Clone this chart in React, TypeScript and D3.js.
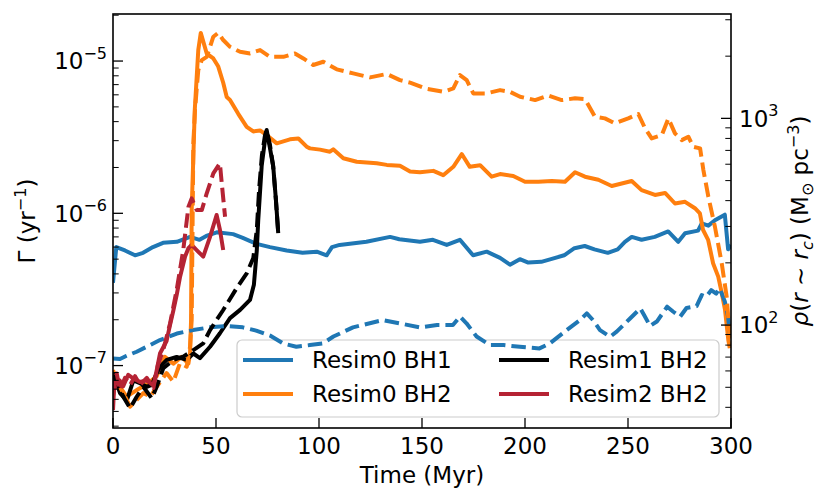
import * as d3 from "d3";

type Pt = [number, number];

// time (Myr) vs Gamma (yr^-1), solid lines, left axis
const resim0Bh1Gamma: Pt[] = [
  [0, 3.5e-7], [1.6, 6.0e-7], [5.8, 5.7e-7], [10.7, 5.3e-7], [14.6, 5.5e-7], [19.4, 6.0e-7],
  [24.3, 6.4e-7], [31, 6.5e-7], [37.4, 7.0e-7], [42, 6.7e-7], [45.3, 7.1e-7], [50.4, 7.5e-7],
  [58.3, 7.3e-7], [63, 6.9e-7], [69.7, 6.3e-7], [76.2, 6.0e-7], [84.3, 5.7e-7], [92, 5.5e-7],
  [98.9, 5.6e-7], [103.7, 5.3e-7], [106.3, 6.0e-7], [110, 6.2e-7], [123, 6.5e-7], [134.5, 7.0e-7],
  [139, 6.75e-7], [149, 6.5e-7], [155.3, 6.7e-7], [162, 6.2e-7], [168.4, 6.7e-7], [174.8, 5.3e-7],
  [181.4, 5.6e-7], [187.9, 5.1e-7], [192.7, 4.6e-7], [197.5, 5.0e-7], [201.6, 4.75e-7], [207.9, 4.8e-7],
  [212.6, 5.0e-7], [219, 5.3e-7], [224, 5.9e-7], [229, 6.1e-7], [233.7, 5.8e-7], [240.2, 5.5e-7],
  [245, 5.8e-7], [248.5, 6.5e-7], [251.8, 7.0e-7], [256.6, 6.7e-7], [263, 7.0e-7], [269.5, 7.6e-7],
  [274.4, 6.5e-7], [277.7, 7.4e-7], [284, 7.7e-7], [285.8, 8.6e-7], [289, 8.3e-7], [292.2, 9.0e-7],
  [297, 9.8e-7], [298.6, 5.8e-7], [300, 6.2e-7],
];

const resim0Bh2Gamma: Pt[] = [
  [0, 9.3e-8], [3.2, 7.3e-8], [6.6, 6.25e-8], [11.5, 6.9e-8], [16.3, 7.5e-8], [21.2, 8.5e-8],
  [25.2, 1.14e-7], [29.3, 1.03e-7], [33.3, 1.14e-7], [36.6, 1.03e-7], [37.4, 1.2e-7], [37.9, 2.0e-7],
  [38.2, 1.05e-6], [39.7, 4.8e-6], [41.4, 1.18e-5], [42.6, 1.53e-5], [45.5, 1.12e-5], [48.7, 1.04e-5],
  [51.1, 9.2e-6], [53.5, 7.2e-6], [55.2, 5.8e-6], [56.8, 5.55e-6], [60.8, 4.5e-6], [64.9, 3.7e-6],
  [68.1, 3.45e-6], [71.4, 3.5e-6], [74.6, 3.26e-6], [79.5, 2.88e-6], [85.9, 3.06e-6], [90, 3.1e-6],
  [94, 2.74e-6], [95.6, 2.67e-6], [100.5, 2.62e-6], [105.3, 2.54e-6], [106.9, 2.63e-6], [111.8, 2.3e-6],
  [118.3, 2.18e-6], [128, 2.13e-6], [132.9, 2.08e-6], [139.3, 2.05e-6], [144.2, 1.88e-6], [149, 1.86e-6],
  [155.5, 1.9e-6], [160.3, 1.78e-6], [165.2, 2.02e-6], [169.3, 2.45e-6], [173.2, 2.02e-6], [178.2, 2.07e-6],
  [183.8, 1.74e-6], [187.9, 1.81e-6], [194.3, 1.76e-6], [200, 1.61e-6], [206.5, 1.61e-6], [213, 1.63e-6],
  [219.4, 1.61e-6], [224.3, 1.86e-6], [229.1, 1.74e-6], [235.6, 1.66e-6], [242.1, 1.51e-6], [251.8, 1.63e-6],
  [256.6, 1.42e-6], [263.1, 1.32e-6], [268, 1.36e-6], [272.8, 1.16e-6], [277.7, 1.19e-6], [282.5, 1.08e-6],
  [284.9, 1.0e-6], [286.4, 7.8e-7], [288.9, 6.7e-7], [291.3, 4.7e-7], [293.8, 3.84e-7], [295.5, 3.0e-7],
  [297.1, 2.32e-7], [298.7, 1.47e-7], [299.4, 1.3e-7],
];

const resim1Bh2Gamma: Pt[] = [
  [0.1, 8.9e-8], [3.4, 6.6e-8], [6.7, 5.9e-8], [9.9, 8.0e-8], [13.1, 7.65e-8], [16.4, 7.26e-8],
  [18.8, 7.46e-8], [21.2, 8.9e-8], [22.8, 9.8e-8], [26.1, 1.09e-7], [30.9, 1.14e-7], [35.8, 1.09e-7],
  [39, 1.2e-7], [42.2, 1.12e-7], [47.1, 1.33e-7], [51.9, 1.63e-7], [56.8, 2.05e-7], [61.7, 2.32e-7],
  [66.5, 2.7e-7], [68.4, 3.4e-7], [69.8, 5.7e-7], [70.5, 9.0e-7], [72.2, 2.07e-6], [73.8, 3.03e-6],
  [74.6, 3.52e-6], [76.2, 2.68e-6], [77.8, 2.02e-6], [79.1, 1.22e-6], [80.2, 7.4e-7],
];

const resim2Bh2Gamma: Pt[] = [
  [0, 5.1e-8], [0.8, 8.5e-8], [2.4, 7.26e-8], [3.2, 8.0e-8], [4.9, 7.3e-8], [7.4, 8.7e-8],
  [9.8, 8.25e-8], [13.1, 7.8e-8], [16.3, 8.0e-8], [19.6, 7.4e-8], [21.2, 9.3e-8], [22.8, 1.2e-7],
  [26, 1.45e-7], [27.7, 1.85e-7], [29.3, 2.3e-7], [30.9, 2.9e-7], [32.5, 3.8e-7], [35, 5.2e-7],
  [36.6, 5.9e-7], [38.2, 6.2e-7], [40.6, 5.74e-7], [43.8, 5.19e-7], [47.1, 7.0e-7], [50.3, 9.75e-7],
  [51.9, 7.8e-7], [53.5, 5.74e-7],
];

// time (Myr) vs core density (Msun pc^-3), dashed lines, right axis
const resim0Bh1Rho: Pt[] = [
  [0, 69], [3.4, 68.5], [6.6, 71], [11.5, 74.3], [16.3, 78.5], [22.8, 84.6], [31, 91], [38.9, 94.6],
  [47, 97.5], [55, 98.9], [63, 97.5], [69.5, 94], [76.2, 89], [82.6, 81.5], [89, 78.5], [95.6, 80],
  [101.8, 81.5], [107, 88], [116.5, 97.5], [131, 105.7], [139, 102], [149, 97.5], [157.3, 100],
  [165, 100], [168.4, 110], [171.6, 102], [176.5, 88], [183, 80], [189.5, 80], [197.5, 78.5],
  [207, 77.1], [212, 81.5], [220.3, 94.6], [226.7, 105.7], [230, 114], [233, 105.7], [236.4, 94.6],
  [241.3, 87.8], [244.5, 92.9], [251, 107.6], [256, 120.5], [257.8, 112], [260.7, 99], [264, 104],
  [269, 122.7], [272, 116], [275.3, 109.7], [278.4, 121], [283.3, 123.5], [285.8, 139.7], [288, 137],
  [290.4, 147.7], [292.8, 142], [294.5, 150.5], [297, 130], [298.6, 110], [299.5, 88],
];

const resim0Bh2Rho: Pt[] = [
  [1, 55], [5, 46.9], [8.3, 40.3], [11.5, 43.4], [14.7, 46.9], [18.1, 45], [21.2, 50.3], [26, 58.6],
  [29.3, 53.2], [32.5, 65.3], [35.8, 62.9], [37.4, 78.5], [38.2, 106], [39, 757], [39.8, 1097],
  [41.4, 1714], [43.1, 1914], [45.5, 1985], [47.1, 2219], [48.7, 2483], [51.1, 2594], [53.5, 2394],
  [56.8, 2219], [61.7, 2099], [66.5, 2062], [71.4, 2139], [76.2, 1985], [82.7, 1985], [88.3, 2062],
  [92.4, 1950], [97.2, 1812], [102.1, 1879], [108.6, 1727], [116.6, 1651], [124.8, 1579], [132.9, 1640],
  [139.3, 1531], [144.2, 1490], [152.3, 1390], [160.3, 1345], [165.2, 1396], [168.4, 1620], [171.7, 1531],
  [174.9, 1321], [181.4, 1321], [187.9, 1370], [192.7, 1345], [197.6, 1273], [204.9, 1226], [211.3, 1290],
  [217.8, 1226], [224.3, 1250], [229.1, 1240], [234, 1018], [238.8, 1000], [243.7, 946], [250.1, 1000],
  [255, 1050], [258.3, 895], [261.5, 800], [266.4, 830], [269.6, 1000], [272.8, 846], [276.1, 785],
  [279.3, 815], [281.7, 729], [285, 716], [286.6, 562], [289, 418], [292.2, 299], [295.5, 199],
  [297.9, 137], [299.5, 84.6],
];

const resim1Bh2Rho: Pt[] = [
  [0.1, 57.3], [2.4, 51.3], [5, 45], [8.3, 39.6], [11.5, 45], [14.7, 50.3], [18.8, 44.2], [21.2, 50.3],
  [24.4, 61.8], [29.3, 67.8], [34.1, 70.3], [39, 75.7], [43.8, 81.5], [47.1, 94.6], [53.5, 118.3],
  [60, 150.8], [64.9, 177.9], [68.1, 211], [69.8, 288], [70.9, 450], [72.3, 664], [73.8, 830],
  [74.6, 878], [76.2, 743], [77.7, 594], [78.9, 426], [80.1, 290],
];

const resim2Bh2Rho: Pt[] = [
  [0.1, 45.8], [1.8, 58.3], [3.4, 48.5], [5.8, 55.5], [8.3, 51.3], [10.7, 56.6], [13.1, 51.3],
  [16.4, 55.5], [19.6, 49.6], [21.8, 64.1], [24.4, 75.7], [27.7, 101.9], [30.9, 147.7], [34.1, 230.7],
  [36.6, 373], [38.2, 410], [40.6, 360], [43.1, 360], [45.5, 434], [48.7, 542], [51.9, 606],
  [52.8, 485], [54.4, 334],
];

const legendLabels = ["Resim0 BH1", "Resim0 BH2", "Resim1 BH2", "Resim2 BH2"];
const xTicks = [0, 50, 100, 150, 200, 250, 300];
const gammaMajor = [-7, -6, -5];
const rhoMajor = [2, 3];

const BLUE = "#1f77b4";
const ORANGE = "#ff7f0e";
const BLACK = "#000000";
const RED = "#b52334";

const W = 830;
const H = 503;
const plot = { left: 113, right: 731, top: 14, bottom: 428 };
const FONT = "DejaVu Sans";
const FS = 23;
const SUP = 16;

function minorTicks(domain: number[]) {
  const out: number[] = [];
  const lo = Math.floor(Math.log10(domain[0]));
  const hi = Math.ceil(Math.log10(domain[1]));
  for (let e = lo; e <= hi; e++) {
    for (let k = 2; k <= 9; k++) {
      const v = k * 10 ** e;
      if (v > domain[0] && v < domain[1]) out.push(v);
    }
  }
  return out;
}

export default function App() {
  const x = d3.scaleLinear().domain([0, 300]).range([plot.left, plot.right]);
  const yL = d3.scaleLog().domain([10 ** -7.41, 10 ** -4.691]).range([plot.bottom, plot.top]);
  const yR = d3.scaleLog().domain([10 ** 1.502, 10 ** 3.505]).range([plot.bottom, plot.top]);

  const lineL = d3.line<Pt>().x((d) => x(d[0])).y((d) => yL(d[1]));
  const lineR = d3.line<Pt>().x((d) => x(d[0])).y((d) => yR(d[1]));

  const solid = [
    { data: resim0Bh1Gamma, color: BLUE },
    { data: resim0Bh2Gamma, color: ORANGE },
    { data: resim1Bh2Gamma, color: BLACK },
    { data: resim2Bh2Gamma, color: RED },
  ];
  const dashed = [
    { data: resim0Bh1Rho, color: BLUE },
    { data: resim0Bh2Rho, color: ORANGE },
    { data: resim1Bh2Rho, color: BLACK },
    { data: resim2Bh2Rho, color: RED },
  ];
  const legendColors = [BLUE, ORANGE, BLACK, RED];

  const lw = 4;
  const tickW = 1.3;
  const majorLen = 10;
  const minorLen = 5.7;

  return (
    <svg
      width={W}
      height={H}
      style={{ position: "absolute", left: 0, top: 0, background: "#fff" }}
      fontFamily={FONT}
    >
      <defs>
        <clipPath id="plotclip">
          <rect x={plot.left} y={plot.top} width={plot.right - plot.left} height={plot.bottom - plot.top} />
        </clipPath>
      </defs>

      {/* solid lines (left axis) */}
      <g clipPath="url(#plotclip)">
        {solid.map((s, i) => (
          <path key={i} d={lineL(s.data) ?? ""} fill="none" stroke={s.color} strokeWidth={lw} strokeLinejoin="round" />
        ))}
      </g>

      {/* legend */}
      <g>
        <rect x={237} y={340} width={482} height={77} rx={5} fill="#fff" fillOpacity={0.8} stroke="#cccccc" strokeWidth={1.2} />
        {legendLabels.map((lab, i) => {
          const col = Math.floor(i / 2);
          const row = i % 2;
          const hx = col === 0 ? 243 : 499;
          const ty = 360 + row * 34;
          return (
            <g key={lab}>
              <line x1={hx} x2={hx + 50} y1={ty} y2={ty} stroke={legendColors[i]} strokeWidth={lw} />
              <text x={hx + 69} y={ty + 8.4} fontSize={FS}>{lab}</text>
            </g>
          );
        })}
      </g>

      {/* dashed lines (right axis) */}
      <g clipPath="url(#plotclip)">
        {dashed.map((s, i) => (
          <path
            key={i}
            d={lineR(s.data) ?? ""}
            fill="none"
            stroke={s.color}
            strokeWidth={lw}
            strokeDasharray="14.5 6"
            strokeLinejoin="round"
          />
        ))}
      </g>

      {/* spines */}
      <rect
        x={plot.left}
        y={plot.top}
        width={plot.right - plot.left}
        height={plot.bottom - plot.top}
        fill="none"
        stroke="#000"
        strokeWidth={1.6}
      />

      {/* x ticks */}
      {xTicks.map((t) => (
        <g key={t}>
          <line x1={x(t)} x2={x(t)} y1={plot.bottom} y2={plot.bottom - majorLen} stroke="#000" strokeWidth={tickW} />
          <text x={x(t)} y={454} fontSize={FS} textAnchor="middle">{t}</text>
        </g>
      ))}

      {/* left log ticks */}
      {minorTicks(yL.domain()).map((v, i) => (
        <line key={"lm" + i} x1={plot.left} x2={plot.left + minorLen} y1={yL(v)} y2={yL(v)} stroke="#000" strokeWidth={1} />
      ))}
      {gammaMajor.map((e) => (
        <g key={"lM" + e}>
          <line x1={plot.left} x2={plot.left + majorLen} y1={yL(10 ** e)} y2={yL(10 ** e)} stroke="#000" strokeWidth={tickW} />
          <text x={107} y={yL(10 ** e) + 8.4} fontSize={FS} textAnchor="end">
            10<tspan dy={-10.5} fontSize={SUP}>{"\u2212" + Math.abs(e)}</tspan>
          </text>
        </g>
      ))}

      {/* right log ticks */}
      {minorTicks(yR.domain()).map((v, i) => (
        <line key={"rm" + i} x1={plot.right} x2={plot.right - minorLen} y1={yR(v)} y2={yR(v)} stroke="#000" strokeWidth={1} />
      ))}
      {rhoMajor.map((e) => (
        <g key={"rM" + e}>
          <line x1={plot.right} x2={plot.right - majorLen} y1={yR(10 ** e)} y2={yR(10 ** e)} stroke="#000" strokeWidth={tickW} />
          <text x={739} y={yR(10 ** e) + 8.4} fontSize={FS} textAnchor="start">
            10<tspan dy={-10.5} fontSize={SUP}>{e}</tspan>
          </text>
        </g>
      ))}

      {/* axis labels */}
      <text x={(plot.left + plot.right) / 2} y={483} fontSize={FS} textAnchor="middle">Time (Myr)</text>
      <text transform={`translate(35,${(plot.top + plot.bottom) / 2}) rotate(-90)`} fontSize={FS} textAnchor="middle">
        Γ (yr<tspan dy={-9} fontSize={SUP}>−1</tspan><tspan dy={9}>)</tspan>
      </text>
      <text transform={`translate(808,${(plot.top + plot.bottom) / 2}) rotate(-90)`} fontSize={FS} textAnchor="middle">
        <tspan fontStyle="italic">ρ</tspan>(<tspan fontStyle="italic">r</tspan> ∼ <tspan fontStyle="italic">r</tspan>
        <tspan dy={5} fontSize={SUP} fontStyle="italic">c</tspan>
        <tspan dy={-5}>) (M</tspan>
        <tspan dy={5} fontSize={SUP}>⊙</tspan>
        <tspan dy={-5}> pc</tspan>
        <tspan dy={-9} fontSize={SUP}>−3</tspan>
        <tspan dy={9}>)</tspan>
      </text>
    </svg>
  );
}
